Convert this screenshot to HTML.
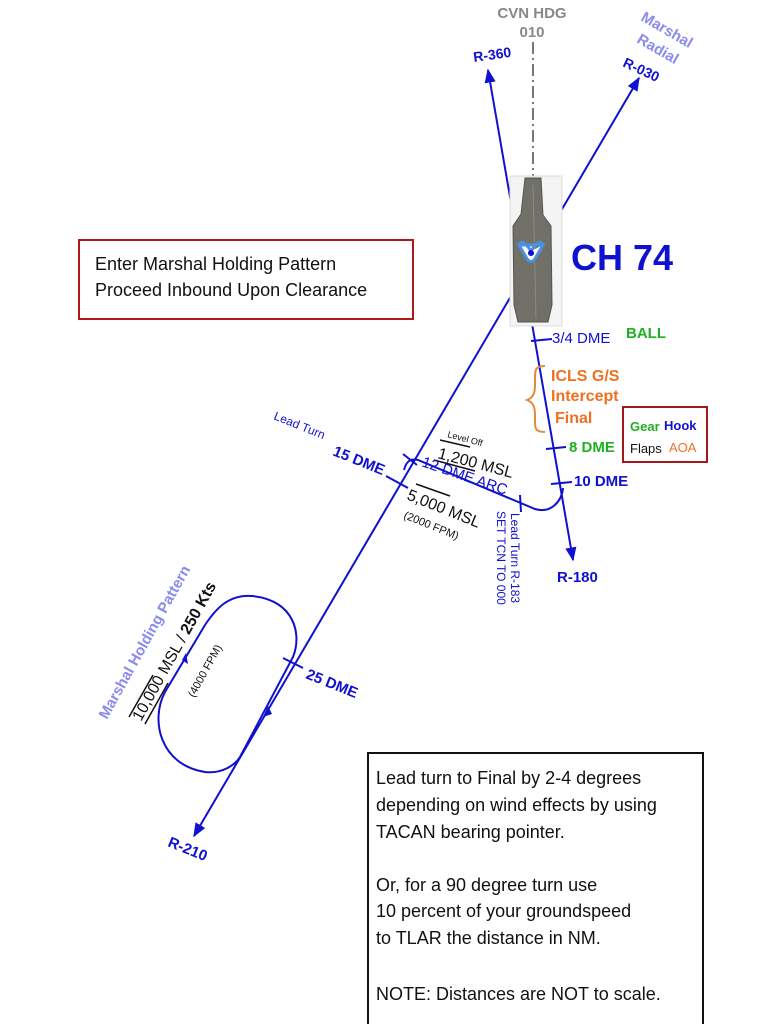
<!DOCTYPE html>
<html><head><meta charset="utf-8"><style>
html,body{margin:0;padding:0;background:#fff;}
svg{display:block;font-family:"Liberation Sans",sans-serif;}
</style></head><body>
<svg width="768" height="1024" viewBox="0 0 768 1024">
<defs>
<marker id="ah" viewBox="0 0 10 10" refX="9" refY="5" markerWidth="7" markerHeight="7" orient="auto-start-reverse"><path d="M0,1 L10,5 L0,9 z" fill="#1010d0"/></marker>
</defs>
<g fill="#888" font-weight="bold" font-size="15" text-anchor="middle">
<text x="532" y="18">CVN HDG</text><text x="532" y="37">010</text></g>
<line x1="533" y1="42" x2="533" y2="178" stroke="#777" stroke-width="2" stroke-dasharray="12,4,2,4"/>
<line x1="488" y1="70" x2="573" y2="560" stroke="#1010d0" stroke-width="2" marker-start="url(#ah)" marker-end="url(#ah)"/>
<line x1="639" y1="78" x2="194" y2="836" stroke="#1010d0" stroke-width="2" marker-start="url(#ah)" marker-end="url(#ah)"/>
<path d="M404,470 C406,462 410,458 418,460 L535,509 C552,514 562,500 563,488" fill="none" stroke="#1010d0" stroke-width="2"/>
<path d="M240,757 L293,657 C302,635 295,600 252,596 C228,594 215,610 205,625 L165,692 C150,720 160,765 205,772 C222,774 235,765 240,757" fill="none" stroke="#1010d0" stroke-width="2"/>
<path d="M268,706 L263,717 L272,714 z" fill="#1010d0"/>
<path d="M188,664 L186,653 L182,660 z" fill="#1010d0"/>
<g stroke="#1010d0" stroke-width="2">
<line x1="531" y1="341" x2="552" y2="339"/>
<line x1="546" y1="449" x2="566" y2="447"/>
<line x1="551" y1="484" x2="572" y2="482"/>
<line x1="386" y1="476" x2="408" y2="488"/>
<line x1="403" y1="454" x2="417" y2="465"/>
<line x1="520" y1="495" x2="521" y2="512"/>
<line x1="283" y1="658" x2="303" y2="668"/>
</g>
<g>
<rect x="510" y="176" width="52" height="150" fill="#f4f4f4" stroke="#ddd" stroke-width="1"/>
<path d="M525,178 L541,178 L543,215 L551,226 L552,305 L548,322 L518,322 L514,305 L513,226 L521,214 z" fill="#707068" stroke="#55554d"/>
<line x1="533" y1="185" x2="536" y2="318" stroke="#8a8a80" stroke-width="1"/>
<path d="M519,245 L543,245 L536,257 C533,263 529,263 526,257 z M519,245 C521,240 525,242 531,251 M543,245 C541,240 537,242 531,251" fill="#fff" stroke="#4a90e0" stroke-width="3"/>
<circle cx="531" cy="253" r="3" fill="#1010d0"/>
</g>
<text x="571" y="270" font-size="36" font-weight="bold" fill="#1010d0">CH 74</text>
<text transform="translate(474,62) rotate(-8)" font-size="14" font-weight="bold" fill="#1010d0">R-360</text>
<text transform="translate(622,66) rotate(25)" font-size="14" font-weight="bold" fill="#1010d0">R-030</text>
<g font-size="15" font-weight="bold" fill="#8a8af0">
<text transform="translate(640,20) rotate(30)">Marshal</text><text transform="translate(636,42) rotate(30)">Radial</text></g>
<text x="557" y="582" font-size="15" font-weight="bold" fill="#1010d0">R-180</text>
<text transform="translate(167,846) rotate(22)" font-size="15" font-weight="bold" fill="#1010d0">R-210</text>
<text x="552" y="343" font-size="15" fill="#1010d0">3/4 DME</text>
<text x="626" y="338" font-size="15" font-weight="bold" fill="#1fb01f">BALL</text>
<path d="M545,366 C534,366 535,370 535,385 C535,395 532,398 527,400 C532,402 535,405 535,415 C535,428 534,432 545,432" fill="none" stroke="#e08a3a" stroke-width="2"/>
<g font-size="16" font-weight="bold" fill="#f07020">
<text x="551" y="381">ICLS G/S</text><text x="551" y="401">Intercept</text><text x="555" y="423">Final</text></g>
<text x="569" y="452" font-size="15" font-weight="bold" fill="#1fb01f">8 DME</text>
<text x="574" y="486" font-size="15" font-weight="bold" fill="#1010d0">10 DME</text>
<g>
<rect x="623" y="407" width="84" height="55" fill="#fff" stroke="#a01818" stroke-width="2"/>
<text x="630" y="431" font-size="13" font-weight="bold" fill="#1fb01f">Gear</text>
<text x="664" y="430" font-size="13" font-weight="bold" fill="#1010d0">Hook</text>
<text x="630" y="453" font-size="13" fill="#111">Flaps</text>
<text x="669" y="452" font-size="13" fill="#f07020">AOA</text>
</g>
<g fill="#111">
<text transform="translate(447,437) rotate(15)" font-size="9">Level Off</text>
<line x1="440" y1="440" x2="470" y2="447" stroke="#111" stroke-width="1.5"/>
<text transform="translate(437,458) rotate(15)" font-size="16">1,200 MSL</text>
<line x1="434" y1="460" x2="475" y2="471" stroke="#111" stroke-width="1.5"/>
</g>
<text transform="translate(421,466) rotate(19)" font-size="15" fill="#1010d0">12 DME ARC</text>
<g fill="#111">
<line x1="416" y1="484" x2="450" y2="496" stroke="#111" stroke-width="1.5"/>
<text transform="translate(406,499) rotate(22)" font-size="16">5,000 MSL</text>
<text transform="translate(403,518) rotate(22)" font-size="11">(2000 FPM)</text>
</g>
<g font-size="12" fill="#1010d0">
<text transform="translate(511,513) rotate(90)">Lead Turn R-183</text>
<text transform="translate(497,511) rotate(90)">SET TCN TO 000</text></g>
<text transform="translate(273,419) rotate(22)" font-size="12" fill="#1010d0">Lead Turn</text>
<text transform="translate(332,455) rotate(22)" font-size="15" font-weight="bold" fill="#1010d0">15 DME</text>
<text transform="translate(305,678) rotate(22)" font-size="15" font-weight="bold" fill="#1010d0">25 DME</text>
<text transform="translate(107,720) rotate(-61)" font-size="15" font-weight="bold" fill="#8a8af0">Marshal Holding Pattern</text>
<g fill="#111">
<text transform="translate(141,722) rotate(-61)" font-size="16"><tspan>10,000</tspan> MSL / <tspan font-weight="bold">250 Kts</tspan></text>
<line x1="129" y1="717" x2="153" y2="675" stroke="#111" stroke-width="1.5"/>
<line x1="145" y1="724" x2="168" y2="683" stroke="#111" stroke-width="1.5"/>
</g>
<text transform="translate(194,698) rotate(-61)" font-size="11" fill="#111">(4000 FPM)</text>
<g>
<rect x="79" y="240" width="334" height="79" fill="#fff" stroke="#b01818" stroke-width="2"/>
<text x="95" y="270" font-size="18" fill="#111">Enter Marshal Holding Pattern</text>
<text x="95" y="296" font-size="18" fill="#111">Proceed Inbound Upon Clearance</text>
</g>
<g font-size="18" fill="#111">
<rect x="368" y="753" width="335" height="280" fill="#fff" stroke="#111" stroke-width="2"/>
<text x="376" y="784">Lead turn to Final by 2-4 degrees</text>
<text x="376" y="811">depending on wind effects by using</text>
<text x="376" y="838">TACAN bearing pointer.</text>
<text x="376" y="891">Or, for a 90 degree turn use</text>
<text x="376" y="917">10 percent of your groundspeed</text>
<text x="376" y="944">to TLAR the distance in NM.</text>
<text x="376" y="1000">NOTE: Distances are NOT to scale.</text>
</g>
</svg>
</body></html>
